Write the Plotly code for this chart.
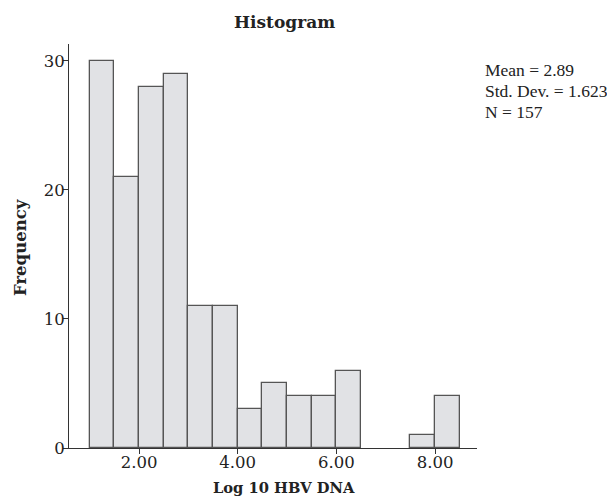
import plotly.graph_objects as go

bin_starts = [1.0, 1.5, 2.0, 2.5, 3.0, 3.5, 4.0, 4.5, 5.0, 5.5, 6.0, 6.5, 7.0, 7.5, 8.0]
counts = [30, 21, 28, 29, 11, 11, 3, 5, 4, 4, 6, 0, 0, 1, 4]
bin_width = 0.5
x_ticks = [2.0, 4.0, 6.0, 8.0]
x_tick_labels = ["2.00", "4.00", "6.00", "8.00"]
y_ticks = [0, 10, 20, 30]
stats_lines = ["Mean = 2.89", "Std. Dev. = 1.623", "N = 157"]

FONT = "DejaVu Serif, serif"
STAT_FONT = "Liberation Serif, serif"
# the page body has an 8px margin, so the figure is drawn 8px smaller
OFF = 8
W, H = 615 - OFF, 498 - OFF
ML, MT = 69 - OFF, 44 - OFF
PR, PB = 477 - OFF, 448 - OFF
MR, MB = W - PR, H - PB
PW, PH = PR - ML, PB - MT

def px(xpix):
    return (xpix - OFF - ML) / PW

def py(ypix):
    return 1 - (ypix - OFF - MT) / PH

xs = [s + bin_width / 2 for s, c in zip(bin_starts, counts) if c > 0]
ys = [c for c in counts if c > 0]

fig = go.Figure(go.Bar(
    x=xs, y=ys, width=bin_width,
    marker=dict(color="#e1e2e5", line=dict(color="#555555", width=1.3)),
))

annotations = [
    dict(text="<b>Histogram</b>", x=px(284), y=py(22), xref="paper", yref="paper",
         xanchor="center", yanchor="middle",
         showarrow=False, font=dict(family=FONT, size=17)),
    dict(text="<b>Log 10 HBV DNA</b>", x=px(284), y=py(487), xref="paper", yref="paper",
         xanchor="center", yanchor="middle",
         showarrow=False, font=dict(family=FONT, size=14.7)),
    dict(text="<b>Frequency</b>", x=px(20), y=py(248), xref="paper", yref="paper",
         xanchor="center", yanchor="middle", textangle=-90,
         showarrow=False, font=dict(family=FONT, size=16.5)),
]
for i, line in enumerate(stats_lines):
    annotations.append(dict(
        text=line, xref="paper", yref="paper",
        x=px(483), y=py(70 + 21 * i), xanchor="left", yanchor="middle", align="left",
        showarrow=False, font=dict(family=STAT_FONT, size=17.5)))

fig.update_layout(
    width=W, height=H,
    margin=dict(l=ML, r=MR, t=MT, b=MB, autoexpand=False),
    paper_bgcolor="white", plot_bgcolor="white",
    font=dict(family=FONT, size=16, color="#222"),
    showlegend=False,
    bargap=0,
    xaxis=dict(
        range=[0.58, 8.85], tickvals=x_ticks, ticktext=x_tick_labels,
        showgrid=False, zeroline=False, showline=True, linecolor="#333", linewidth=1,
        ticks="outside", ticklen=5, tickcolor="#333",
        tickfont=dict(family=FONT, size=16.5), ticklabelstandoff=-6,
    ),
    yaxis=dict(
        range=[0, 31.3], tickvals=y_ticks,
        showgrid=False, zeroline=False, showline=True, linecolor="#333", linewidth=1,
        ticks="outside", ticklen=5, tickcolor="#333",
        tickfont=dict(family=FONT, size=16.5), ticklabelstandoff=-5,
    ),
    annotations=annotations,
)

fig.write_html("out.html")
